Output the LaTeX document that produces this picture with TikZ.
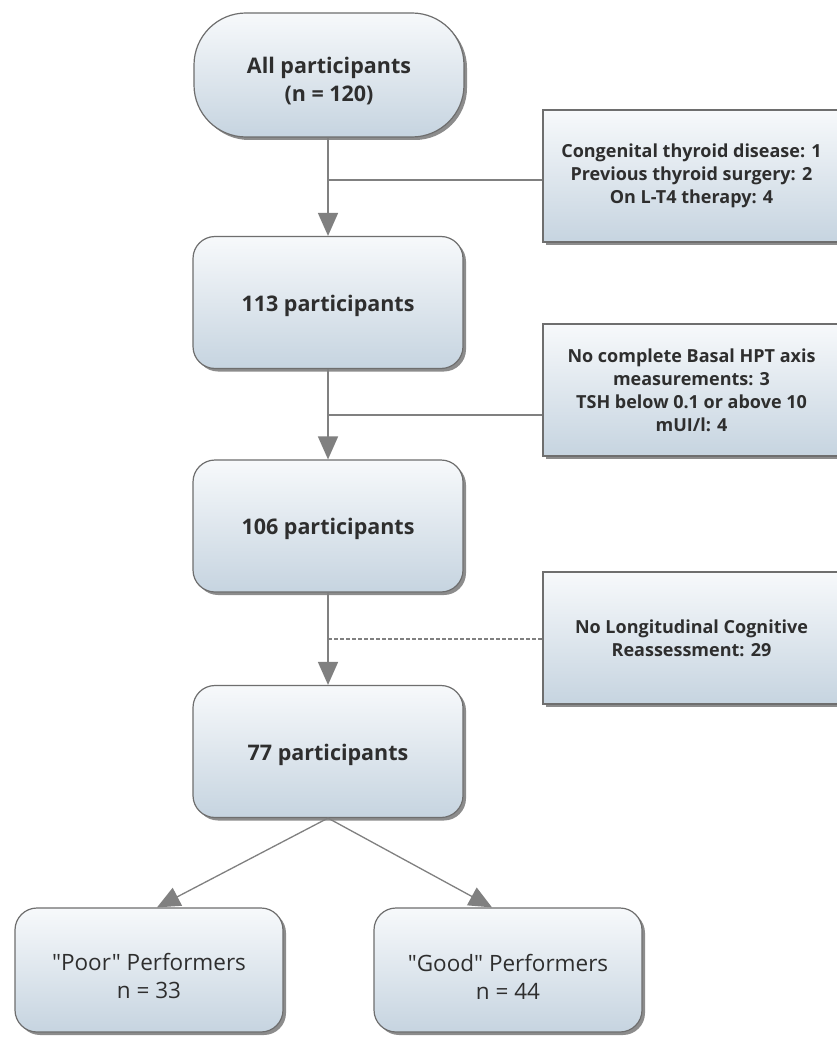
\documentclass[tikz,border=0pt]{standalone}
\usepackage{fontspec}
\setmainfont{Open Sans}
\newfontfamily\plainfont[Ligatures=TeXOff]{Open Sans}
\usetikzlibrary{arrows.meta,shadows}
\definecolor{edgec}{HTML}{6E6E6E}
\definecolor{linec}{HTML}{808080}
\definecolor{topc}{HTML}{F7F9FB}
\definecolor{botc}{HTML}{C6D4E0}
\definecolor{txtc}{HTML}{2E2E2E}
\tikzset{
  boxbase/.style={draw=edgec, line width=1.2pt, top color=topc, bottom color=botc,
    text=txtc, align=center, inner sep=0pt,
    drop shadow={shadow xshift=3pt, shadow yshift=-3pt, fill=black, opacity=.45}},
  mainbox/.style={boxbase, rounded corners=22pt, minimum width=270pt, minimum height=132pt,
    font=\bfseries\fontsize{21.5}{28}\selectfont, text height=22pt, text depth=5pt},
  pillbox/.style={boxbase, rounded corners=52pt, minimum width=270pt, minimum height=124pt,
    font=\bfseries\fontsize{21.5}{28}\selectfont, text height=56pt},
  sidebox/.style={boxbase, minimum width=297pt, minimum height=132pt,
    font=\bfseries\fontsize{18}{23}\selectfont},
  leafbox/.style={boxbase, rounded corners=22pt, minimum width=268pt, minimum height=124pt,
    font=\plainfont\fontsize{22.5}{28}\selectfont, text height=58pt},
  flow/.style={draw=linec, line width=1.6pt, -{Triangle[width=20pt,length=23pt]}},
  branch/.style={draw=linec, line width=1.6pt},
}
\begin{document}
\begin{tikzpicture}[x=1pt,y=-1pt]
\useasboundingbox (0,0) rectangle (837,1043);
\fill[white] (0,0) rectangle (837,1043);

\node[pillbox] (all) at (329,75) {All participants\\(n = 120)};
\node[mainbox] (p113) at (328,302.5) {113 participants};
\node[mainbox] (p106) at (328,526) {106 participants};
\node[mainbox] (p77) at (328,751.5) {77 participants};
\node[leafbox] (poor) at (149,970) {"Poor" Performers\\n = 33};
\node[leafbox] (good) at (508,970) {"Good" Performers\\n = 44};

\node[sidebox] (ex1) at (691.5,176) {Congenital thyroid disease: 1\\Previous thyroid surgery: 2\\On L-T4 therapy: 4};
\node[sidebox] (ex2) at (691.5,390) {No complete Basal HPT axis\\measurements: 3\\TSH below 0.1 or above 10\\mUI/l: 4};
\node[sidebox] (ex3) at (691.5,638) {No Longitudinal Cognitive\\Reassessment: 29};

\coordinate (j1) at (328,180);
\coordinate (j2) at (328,415);
\coordinate (j3) at (328,639);

\draw[flow] (all.south -| p113.north) -- (p113.north);
\draw[flow] (p113.south) -- (p106.north);
\draw[flow] (p106.south) -- (p77.north);
\draw[branch] (j1) -- (ex1.west |- j1);
\draw[branch] (j2) -- (ex2.west |- j2);
\draw[branch, dashed, dash pattern=on 4pt off 2pt] (j3) -- (ex3.west |- j3);
\draw[flow, line width=1.3pt] (p77.south) -- ([xshift=8pt]poor.north);
\draw[flow, line width=1.3pt] (p77.south) -- ([xshift=-16pt]good.north);
\end{tikzpicture}
\end{document}
